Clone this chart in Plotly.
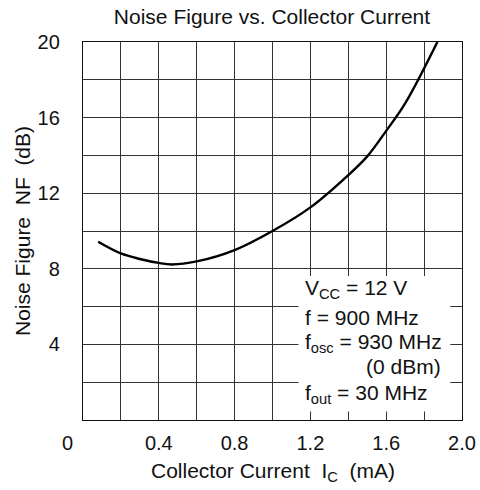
import plotly.graph_objects as go

# Data
current_ma = [0.08, 0.2, 0.3, 0.4, 0.47, 0.6, 0.8, 1.0, 1.2, 1.4, 1.5, 1.6, 1.7, 1.87]
noise_db = [9.43, 8.81, 8.52, 8.31, 8.23, 8.39, 8.99, 10.0, 11.25, 12.96, 13.95, 15.3, 16.75, 20.0]

x_ticks = [0.4, 0.8, 1.2, 1.6, 2.0]
x_tick_labels = ["0.4", "0.8", "1.2", "1.6", "2.0"]
y_ticks = [4, 8, 12, 16, 20]
y_tick_labels = ["4", "8", "12", "16", "20"]

legend_lines = [
    "V<sub>CC</sub> = 12 V",
    "f = 900 MHz",
    "f<sub>osc</sub> = 930 MHz",
    "(0 dBm)",
    "f<sub>out</sub> = 30 MHz",
]

FONT = "Liberation Sans, Arial, Helvetica, sans-serif"
FS = 21
TFS = 20
NB = "\u00a0"

W, H = 480, 490

fig = go.Figure()
fig.add_trace(go.Scatter(
    x=current_ma, y=noise_db, mode="lines",
    line=dict(color="black", width=2.4, shape="spline", smoothing=1.0),
    hoverinfo="skip", showlegend=False,
))

axis_common = dict(
    showgrid=True, gridcolor="#333", gridwidth=1,
    showline=True, linecolor="#111", linewidth=1.3, mirror=True,
    zeroline=False, ticks="", automargin=False,
    tickfont=dict(family=FONT, size=TFS, color="#111"),
)

fig.update_xaxes(range=[0, 2.0], tickvals=x_ticks, ticktext=x_tick_labels,
                 ticklabelstandoff=5, **axis_common)
fig.update_yaxes(range=[0, 20], tickvals=y_ticks, ticktext=y_tick_labels,
                 ticklabelstandoff=18, **axis_common)
fig.update_xaxes(minor=dict(dtick=0.2, showgrid=True, gridcolor="#333", gridwidth=1, tick0=0))
fig.update_yaxes(minor=dict(dtick=2, showgrid=True, gridcolor="#333", gridwidth=1, tick0=0))

# white box covering the grid behind the condition text
fig.add_shape(type="rect", xref="x", yref="y", x0=1.137, x1=1.938, y0=0.45, y1=7.62,
              fillcolor="white", line=dict(width=0), layer="above")

line_y = [6.95, 5.45, 4.05, 2.85, 1.4]
for i, txt in enumerate(legend_lines):
    if txt.startswith("("):
        fig.add_annotation(x=1.902, y=line_y[i], xref="x", yref="y", text=txt,
                           showarrow=False, xanchor="right", yanchor="middle",
                           font=dict(family=FONT, size=FS, color="#111"))
    else:
        fig.add_annotation(x=1.163, y=line_y[i], xref="x", yref="y", text=txt,
                           showarrow=False, xanchor="left", yanchor="middle",
                           font=dict(family=FONT, size=FS, color="#111"))

# origin label
fig.add_annotation(x=0, y=0, xref="paper", yref="paper", text="0", showarrow=False,
                   xanchor="center", yanchor="middle", xshift=-16, yshift=-23,
                   font=dict(family=FONT, size=TFS, color="#111"))

# axis titles
fig.add_annotation(x=0.5, y=0, xref="paper", yref="paper",
                   text=f"Collector Current{NB}{NB}I<sub>C</sub>{NB}{NB}(mA)",
                   showarrow=False, xanchor="center", yanchor="middle", yshift=-52,
                   font=dict(family=FONT, size=FS, color="#111"))
fig.add_annotation(x=0, y=0.5, xref="paper", yref="paper",
                   text=f"Noise Figure{NB}{NB}NF{NB}{NB}(dB)", textangle=-90,
                   showarrow=False, xanchor="center", yanchor="middle", xshift=-61,
                   font=dict(family=FONT, size=FS, color="#111"))

fig.update_layout(
    width=W, height=H,
    margin=dict(l=83, r=18, t=42, b=70),
    paper_bgcolor="white", plot_bgcolor="white",
    title=dict(text="Noise Figure vs. Collector Current", x=(272 / W), xref="container",
               xanchor="center", y=1 - 16.5 / H, yref="container", yanchor="middle",
               font=dict(family=FONT, size=FS, color="#111")),
)

fig.write_html("out.html", config={"displayModeBar": False},
               post_script="document.body.style.margin='0px';")
